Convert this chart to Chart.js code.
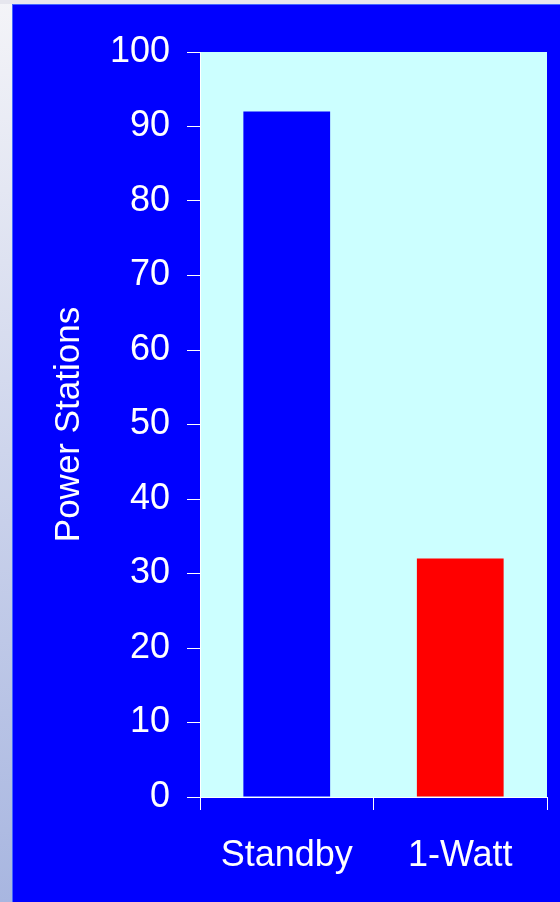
<!DOCTYPE html>
<html>
<head>
<meta charset="utf-8">
<script src="https://cdn.jsdelivr.net/npm/chart.js@4"></script>
<style>
  html, body { margin: 0; padding: 0; background: #ffffff; }
  #wrap { width: 560px; height: 902px; position: relative; }
</style>
</head>
<body>
<div id="wrap"><canvas id="grafica" width="560" height="902"></canvas></div>
<script>
const categorias = ['Standby', '1-Watt'];
const valores = [92, 32];
const coloresBarras = ['#0000ff', '#ff0000'];
const ticksY = [0, 10, 20, 30, 40, 50, 60, 70, 80, 90, 100];

// fondo: franja clara a la izquierda, arriba, y el marco azul
const fondo = {
  id: 'fondo',
  beforeDraw(chart) {
    const c = chart.ctx;
    const w = chart.width, h = chart.height;
    const g = c.createLinearGradient(0, 0, 0, h);
    g.addColorStop(0, '#f4f4f8');
    g.addColorStop(1, '#a8b6e0');
    c.save();
    c.fillStyle = g;
    c.fillRect(0, 0, w, h);
    c.fillStyle = '#e6e6ee';
    c.fillRect(0, 0, w, 4);
    c.fillStyle = '#4466ff';
    c.fillRect(12, 4, w - 12, h - 4);
    c.fillStyle = '#0000ff';
    c.fillRect(13, 5, w - 13, h - 5);
    const a = chart.chartArea;
    c.fillStyle = '#ccffff';
    c.fillRect(a.left, a.top, a.right - a.left, a.bottom - a.top);
    c.restore();
  }
};

const ctx = document.getElementById('grafica').getContext('2d');
new Chart(ctx, {
  type: 'bar',
  data: {
    labels: categorias,
    datasets: [{
      data: valores,
      backgroundColor: coloresBarras,
      borderWidth: 0,
      categoryPercentage: 1,
      barPercentage: 0.5
    }]
  },
  plugins: [fondo],
  options: {
    responsive: false,
    animation: false,
    layout: { padding: { left: 13, top: 52, right: 13, bottom: 0 } },
    plugins: {
      legend: { display: false },
      tooltip: { enabled: false }
    },
    scales: {
      x: {
        afterFit(s) { s.height = 105; },
        grid: { offset: true, drawOnChartArea: false, color: '#ffffff', tickLength: 13 },
        border: { color: '#ffffff', width: 1 },
        ticks: { color: '#ffffff', padding: 24, font: { family: 'Liberation Sans, Arial', size: 36 } }
      },
      y: {
        min: 0,
        max: 100,
        afterFit(s) { s.width = 187; },
        afterBuildTicks(s) { s.ticks = ticksY.map(v => ({ value: v })); },
        grid: { drawOnChartArea: false, color: '#ffffff', tickLength: 13 },
        border: { color: '#ffffff', width: 1 },
        ticks: { color: '#ffffff', padding: 17, font: { family: 'Liberation Sans, Arial', size: 36 } },
        title: {
          display: true,
          text: 'Power Stations',
          color: '#ffffff',
          padding: { top: 35 },
          font: { family: 'Liberation Sans, Arial', size: 35 }
        }
      }
    }
  }
});
</script>
</body>
</html>
